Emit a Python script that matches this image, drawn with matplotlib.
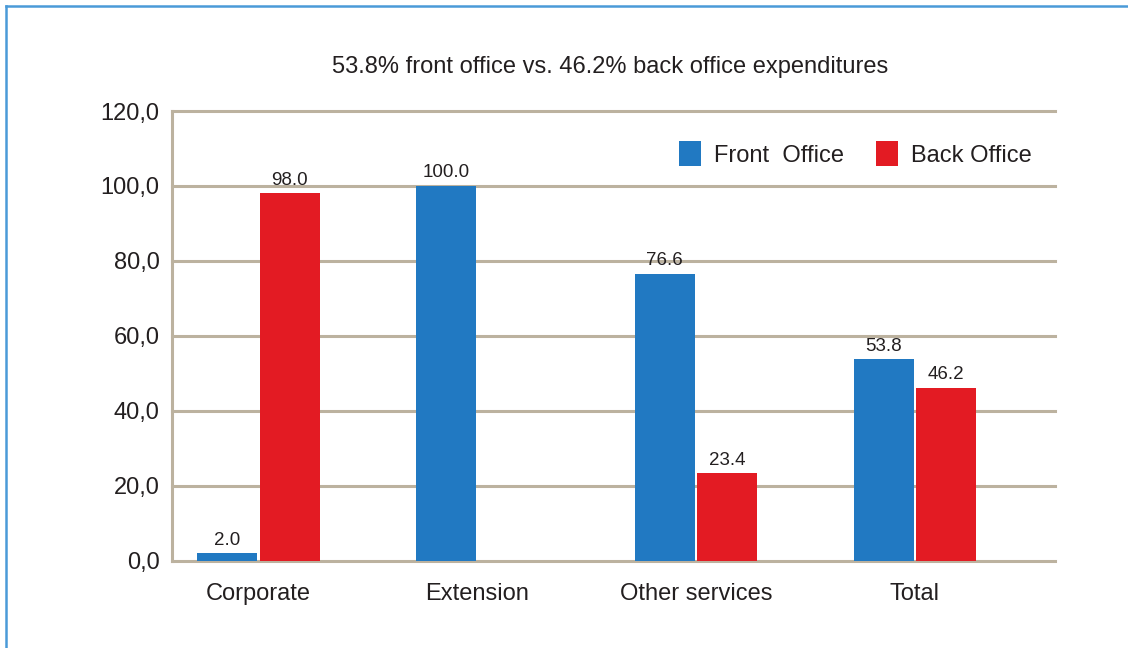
import numpy as np
import matplotlib.pyplot as plt
from matplotlib.lines import Line2D

plt.rcParams['font.family'] = ['Liberation Sans', 'DejaVu Sans']

categories = ['Corporate', 'Extension', 'Other services', 'Total']
front_office = [2.0, 100.0, 76.6, 53.8]
back_office = [98.0, 0.0, 23.4, 46.2]
front_labels = ['2.0', '100.0', '76.6', '53.8']
back_labels = ['98.0', '', '23.4', '46.2']
yticks = [0, 20, 40, 60, 80, 100, 120]
ytick_labels = ['0,0', '20,0', '40,0', '60,0', '80,0', '100,0', '120,0']

blue = '#2179c2'
red = '#e31b23'
grid_col = '#bcb29f'
text_col = '#231f20'

fig = plt.figure(figsize=(11.28, 6.48), dpi=100)
ax = fig.add_axes([0.1525, 0.1343, 0.7828, 0.6944])

x = np.arange(len(categories))
w = 0.274
off = 0.143
b1 = ax.bar(x - off, front_office, w, color=blue, label='Front  Office', zorder=3)
b2 = ax.bar(x + off, back_office, w, color=red, label='Back Office', zorder=3)

for bars, labels in ((b1, front_labels), (b2, back_labels)):
    for rect, lab in zip(bars, labels):
        if not lab:
            continue
        ax.text(rect.get_x() + rect.get_width() / 2, rect.get_height() + 1.2, lab,
                ha='center', va='bottom', fontsize=13.5, color=text_col, zorder=4)

ax.set_ylim(0, 120)
ax.set_xlim(-0.395, 3.64)
ax.set_yticks(yticks)
ax.set_yticklabels(ytick_labels, fontsize=17, color=text_col)
ax.set_xticks(x)
ax.set_xticklabels(categories, fontsize=17, color=text_col)
ax.tick_params(length=0)
ax.tick_params(axis='y', pad=9)
ax.tick_params(axis='x', pad=16)
for yv in yticks:
    ax.axhline(yv, color=grid_col, linewidth=2.2, zorder=1, clip_on=False)
for s in ['top', 'right', 'bottom']:
    ax.spines[s].set_visible(False)
ax.spines['left'].set_color(grid_col)
ax.spines['left'].set_linewidth(2.2)

leg = ax.legend(loc='upper right', bbox_to_anchor=(0.998, 0.98), ncol=2, frameon=False,
                fontsize=17, handlelength=0.95, handleheight=1.25, handletextpad=0.55,
                columnspacing=1.35)
for t in leg.get_texts():
    t.set_color(text_col)

fig.text(0.541, 0.896, '53.8% front office vs. 46.2% back office expenditures',
         ha='center', va='center', fontsize=17, color=text_col)

# border lines on top and left
fig.add_artist(Line2D([6 / 1128, 1], [1 - 6 / 648, 1 - 6 / 648], color='#4a9ad8', linewidth=1.8))
fig.add_artist(Line2D([6 / 1128, 6 / 1128], [0, 1 - 6 / 648], color='#4a9ad8', linewidth=1.8))

fig.savefig('out.png', dpi=100)
